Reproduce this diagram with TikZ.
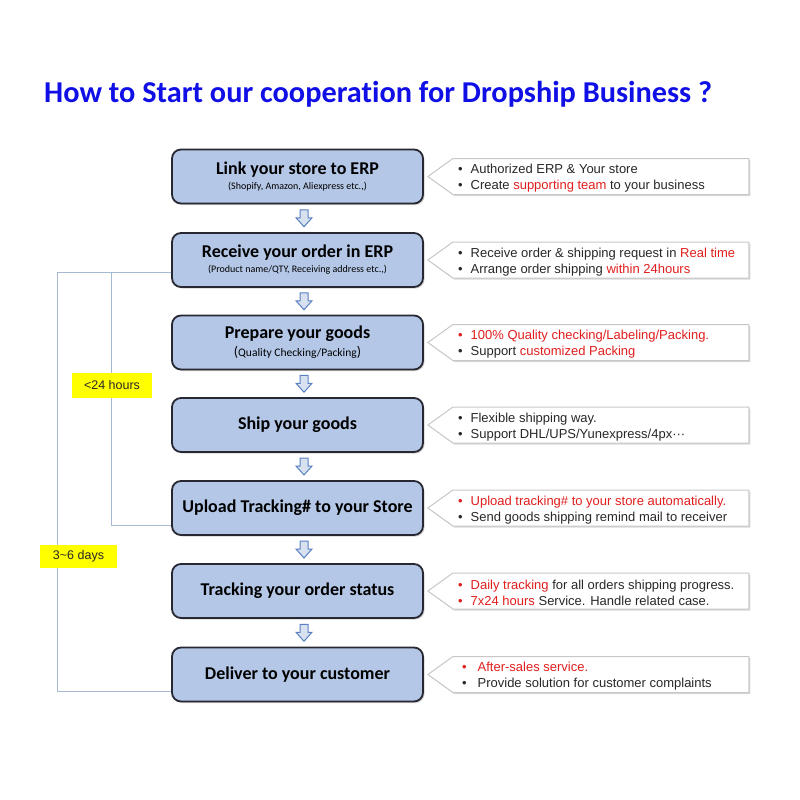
\documentclass[tikz,border=0pt]{standalone}
\usepackage{fontspec}
\setmainfont{Carlito}[Ligatures={NoCommon}]
\newfontfamily\calloutfont{Liberation Sans}
\usetikzlibrary{calc,shadows}
\definecolor{boxfill}{RGB}{180,199,231}
\definecolor{boxline}{RGB}{40,40,50}
\definecolor{titleblue}{RGB}{15,15,230}
\definecolor{txtred}{RGB}{225,30,30}
\definecolor{brkcol}{RGB}{165,185,210}
\definecolor{arrline}{RGB}{90,130,195}
\definecolor{arrfill}{RGB}{215,225,240}
\definecolor{callline}{RGB}{200,200,200}
\definecolor{calltext}{RGB}{40,40,40}
\definecolor{hlyellow}{RGB}{255,255,0}
\newcommand\redtxt[1]{\textcolor{txtred}{#1}}
\newcommand\btitle{\fontsize{18}{20}\selectfont\bfseries}
\newcommand\bsub{\fontsize{10}{11}\selectfont}
\newcommand\bul{\textbullet\hspace{8pt}}
\tikzset{
  stepbox/.style={draw=boxline, line width=1.8pt, fill=boxfill, rounded corners=9pt,
    minimum width=251pt, minimum height=54pt, align=center, inner sep=2pt,
    drop shadow={shadow xshift=1.5pt, shadow yshift=-1.5pt, opacity=0.35}},
  callout/.style={draw=callline, line width=1pt, fill=white,
    drop shadow={shadow xshift=1.5pt, shadow yshift=-1.5pt, opacity=0.3}},
  callouttext/.style={anchor=west, align=left, inner sep=0pt, text=calltext,
    font=\calloutfont\fontsize{13}{16}\selectfont},
  brk/.style={draw=brkcol, line width=0.9pt},
  hl/.style={fill=hlyellow, minimum width=80pt, minimum height=25pt, inner sep=0pt,
    font=\calloutfont\fontsize{12.5}{14}\selectfont, text=calltext},
  blockarrow/.style={draw=arrline, fill=arrfill, line width=1pt, line join=miter},
}
\begin{document}
\begin{tikzpicture}[x=1pt,y=-1pt]
\useasboundingbox[fill=white] (0,0) rectangle (800,800);
\node[anchor=base west, inner sep=0pt, text=titleblue, font=\fontsize{30.3}{34}\selectfont\bfseries] (title) at (44,102) {How to Start our cooperation for Dropship Business ?};

\node[stepbox] (b1) at (297.5,176.5) {{\btitle Link your store to ERP}\\[3pt]{\bsub (Shopify, Amazon, Aliexpress etc.,)}};
\node[stepbox] (b2) at (297.5,260) {{\btitle Receive your order in ERP}\\[3pt]{\bsub (Product name/QTY, Receiving address etc.,)}};
\node[stepbox] (b3) at (297.5,342.5) {{\btitle Prepare your goods}\\[4pt]{\fontsize{14}{14}\selectfont(}{\fontsize{11.5}{14}\selectfont Quality Checking/Packing}{\fontsize{14}{14}\selectfont)}};
\node[stepbox] (b4) at (297.5,425) {\btitle Ship your goods};
\node[stepbox] (b5) at (297.5,508) {\btitle Upload Tracking\# to your Store};
\node[stepbox] (b6) at (297.5,591) {\btitle Tracking your order status};
\node[stepbox] (b7) at (297.5,674.5) {\btitle Deliver to your customer};

% arrows between steps
\foreach \i/\j in {1/2,2/3,3/4,4/5,5/6,6/7}{
  \coordinate (m\i) at ($(b\i.south)!0.5!(b\j.north)$);
  \draw[blockarrow] ($(m\i)+(2.5,-8.5)$) -- ++(8,0) -- ++(0,8) -- ++(4,0) -- ++(-8,9) -- ++(-8,-9) -- ++(4,0) -- cycle;
}

% callouts
\foreach \i in {1,...,7}{
  \draw[callout] ($(b\i.east)+(4,0)$) coordinate (t\i) -- ++(25,-18) -- ++(296,0) -- ++(0,36) -- ++(-296,0) -- cycle;
}
\node[callouttext] (c1) at ($(t1)+(30,2)$) {\bul Authorized ERP \& Your store\\ \bul Create \redtxt{supporting team} to your business};
\node[callouttext] (c2) at ($(t2)+(30,2)$) {\bul Receive order \& shipping request in \redtxt{Real time}\\ \bul Arrange order shipping \redtxt{within 24hours}};
\node[callouttext] (c3) at ($(t3)+(30,2)$) {\redtxt{\bul 100\% Quality checking/Labeling/Packing.}\\ \bul Support \redtxt{customized Packing}};
\node[callouttext] (c4) at ($(t4)+(30,2)$) {\bul Flexible shipping way.\\ \bul Support DHL/UPS/Yunexpress/4px···};
\node[callouttext] (c5) at ($(t5)+(30,2)$) {\redtxt{\bul Upload tracking\# to your store automatically.}\\ \bul Send goods shipping remind mail to receiver};
\node[callouttext] (c6) at ($(t6)+(30,2)$) {\redtxt{\bul Daily tracking} for all orders shipping progress.\\ \redtxt{\bul 7x24 hours} Service. Handle related case.};
\node[callouttext] (c7) at ($(t7)+(34,2)$) {\redtxt{\bul\hspace{3pt}After-sales service.}\\ \bul\hspace{3pt}Provide solution for customer complaints};

% time brackets
\coordinate (k2) at ($(b2.west)+(0,12)$);
\coordinate (k5) at ($(b5.west)+(0,17)$);
\coordinate (k7) at ($(b7.west)+(0,16.5)$);
\draw[brk] (k2) -- ++(-114,0) coordinate (o1) |- (k7);
\coordinate (i1) at ($(k2)+(-60,0)$);
\draw[brk] (i1) |- (k5);

\node[hl] (l1) at (112,385.5) {<24 hours};
\node[hl, minimum width=77pt, minimum height=23pt] (l2) at (78.5,556.5) {3\textasciitilde6 days};
\end{tikzpicture}
\end{document}
